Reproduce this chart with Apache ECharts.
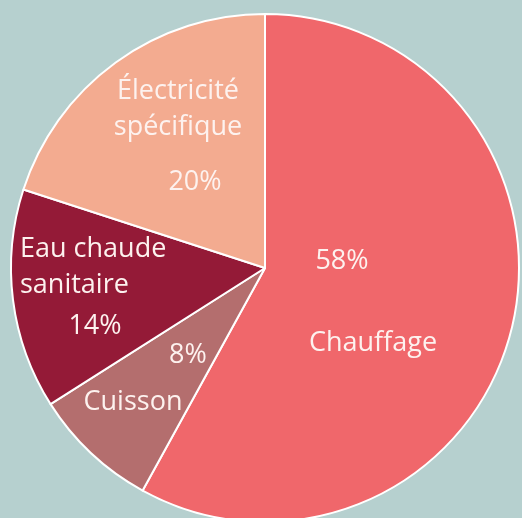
<!DOCTYPE html>
<html><head><meta charset="utf-8">
<script src="https://cdn.jsdelivr.net/npm/echarts@6/dist/echarts.min.js"></script>
<style>html,body{margin:0;padding:0;background:#b6d0cf;}#c{width:522px;height:518px;}</style>
</head><body><div id="c"></div>
<script>
const categories = ['Chauffage', 'Cuisson', 'Eau chaude\nsanitaire', 'Électricité\nspécifique'];
const values = [58, 8, 14, 20];
const colors = ['#f0676b', '#b46e6e', '#941a37', '#f3ab90'];

// label placement (style/layout only)
const nameLayout = [
  {x: 373, y: 343, align: 'center'},
  {x: 133, y: 402, align: 'center'},
  {x: 20, y: 267, align: 'left'},
  {x: 178, y: 109, align: 'center'}
];
const pctLayout = [
  {x: 342, y: 261},
  {x: 188, y: 355},
  {x: 95, y: 326},
  {x: 195, y: 182}
];

const chart = echarts.init(document.getElementById('c'), null, {renderer: 'canvas'});
const data = categories.map((c, i) => ({name: c, value: values[i], itemStyle: {color: colors[i]}}));
const font = {fontFamily: 'Open Sans', fontSize: 27, color: '#fdf2ef'};
chart.setOption({
  backgroundColor: '#b6d0cf',
  animation: false,
  series: [
    {
      type: 'pie', center: [265, 268], radius: 254, startAngle: 90, clockwise: true,
      data: data,
      itemStyle: {borderColor: '#ffffff', borderWidth: 2},
      label: Object.assign({show: true, position: 'inside', formatter: '{b}', lineHeight: 36}, font),
      labelLine: {show: false},
      labelLayout: p => Object.assign({verticalAlign: 'middle'}, nameLayout[p.dataIndex]),
      emphasis: {disabled: true}
    },
    {
      type: 'pie', center: [265, 268], radius: 254, startAngle: 90, clockwise: true, silent: true,
      data: categories.map((c, i) => ({name: c, value: values[i]})),
      itemStyle: {color: 'rgba(0,0,0,0)', borderWidth: 0},
      label: Object.assign({show: true, position: 'inside', formatter: '{c}%'}, font),
      labelLine: {show: false},
      labelLayout: p => Object.assign({verticalAlign: 'middle', align: 'center'}, pctLayout[p.dataIndex]),
      emphasis: {disabled: true}
    }
  ]
});
</script></body></html>
